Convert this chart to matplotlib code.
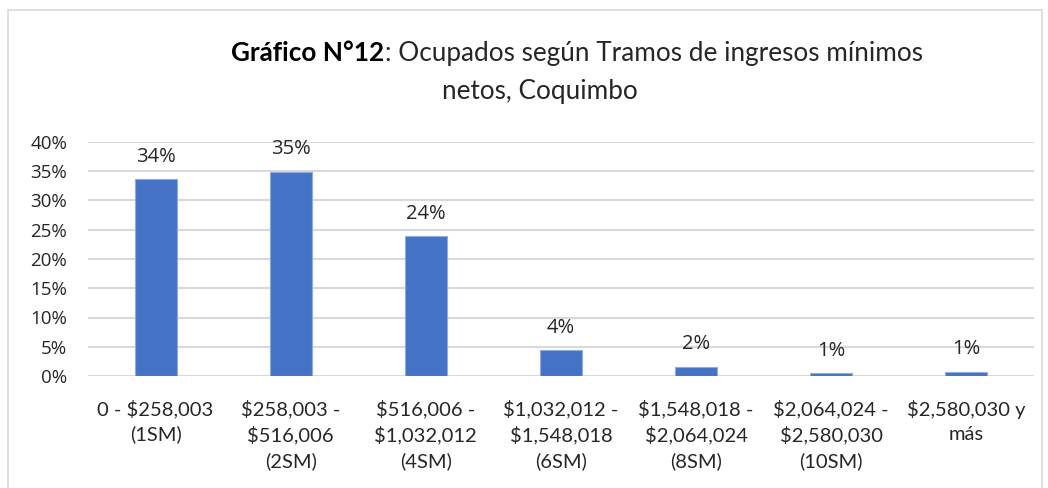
import matplotlib
matplotlib.use("Agg")
import matplotlib.pyplot as plt
from matplotlib.patches import Rectangle

categories = ["0 - $258,003\n(1SM)", "$258,003 -\n$516,006\n(2SM)", "$516,006 -\n$1,032,012\n(4SM)",
              "$1,032,012 -\n$1,548,018\n(6SM)", "$1,548,018 -\n$2,064,024\n(8SM)",
              "$2,064,024 -\n$2,580,030\n(10SM)", "$2,580,030 y\nmás"]
values = [33.6, 34.9, 23.9, 4.4, 1.6, 0.5, 0.7]
labels = ["34%", "35%", "24%", "4%", "2%", "1%", "1%"]
yticks = [0, 5, 10, 15, 20, 25, 30, 35, 40]

W, H = 1048, 488
fig = plt.figure(figsize=(W/100, H/100), dpi=100)
ax = fig.add_axes([88/W, 1-376/H, (1034-88)/W, (376-142)/H])

x = range(len(values))
ax.bar(x, values, width=0.31, color="#4472c4", edgecolor="#8faadc", linewidth=0.8, zorder=3)
for xi, v, l in zip(x, values, labels):
    ax.annotate(l, (xi, v), xytext=(0, 9), textcoords="offset points", ha="center", va="bottom",
                fontsize=14.5, color="#262626", family="Open Sans")
ax.set_xlim(-0.5, len(values)-0.5)
ax.set_ylim(0, 40)
ax.set_yticks(yticks)
ax.set_yticklabels([f"{t}%" for t in yticks], fontsize=13.5, color="#262626", family="Open Sans")
ax.set_xticks(list(x))
ax.set_xticklabels(categories, fontsize=14.5, color="#262626", family="Lato", linespacing=1.5, va="top")
ax.tick_params(axis="both", length=0)
ax.tick_params(axis="x", pad=17)
ax.tick_params(axis="y", pad=15)
ax.grid(axis="y", color="#d9d9d9", linewidth=1.5, zorder=0)
for s in ax.spines.values():
    s.set_visible(False)

# border
fig.patches.append(Rectangle((8/W, -0.1), (1042-8)/W, 1.1 - 10/H, transform=fig.transFigure,
                             fill=False, edgecolor="#d9d9d9", linewidth=1.2))

# title
fig.canvas.draw()
r = fig.canvas.get_renderer()
t1 = fig.text(0, 1-53/H, "Gráfico N°12", fontsize=18.8, fontweight="bold", family="Lato", color="black", va="center")
t2 = fig.text(0, 1-53/H, ": Ocupados según Tramos de ingresos mínimos", fontsize=18.8, family="Lato", color="#262626", va="center")
w1 = t1.get_window_extent(r).width
w2 = t2.get_window_extent(r).width
start = 577 - (w1 + w2)/2
t1.set_x(start/W)
t2.set_x((start + w1)/W)
fig.text(540/W, 1-91/H, "netos, Coquimbo", fontsize=18.8, family="Lato", color="#262626", ha="center", va="center")

fig.savefig("out.png", dpi=100)
